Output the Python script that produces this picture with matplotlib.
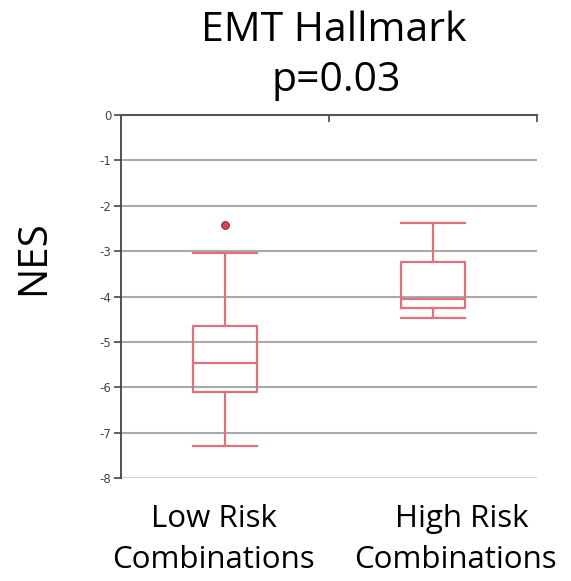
import matplotlib
matplotlib.use("Agg")
import matplotlib.pyplot as plt
from matplotlib.ticker import FixedLocator

categories = ["Low Risk\nCombinations", "High Risk\nCombinations"]
whislo = [-7.29, -4.47]
q1 = [-6.10, -4.25]
med = [-5.46, -4.05]
q3 = [-4.65, -3.24]
whishi = [-3.05, -2.38]
fliers = [[-2.42], []]
yticks = [0, -1, -2, -3, -4, -5, -6, -7, -8]

W, H = 571, 581
fig = plt.figure(figsize=(W / 100, H / 100), dpi=100)
ax = fig.add_axes([121 / W, 1 - 478 / H, (537 - 121) / W, (478 - 115) / H])

stats = []
for i in range(len(categories)):
    stats.append(dict(whislo=whislo[i], q1=q1[i], med=med[i], q3=q3[i],
                      whishi=whishi[i], fliers=fliers[i], label=categories[i]))

red = "#e2707c"
lw = 1.6
ax.bxp(stats, positions=[1, 2], widths=0.31, showfliers=True,
       boxprops=dict(color=red, lw=lw),
       medianprops=dict(color=red, lw=lw),
       whiskerprops=dict(color=red, lw=lw),
       capprops=dict(color=red, lw=lw),
       capwidths=0.31,
       flierprops=dict(marker="o", markersize=5.5, markerfacecolor="#d9444f",
                       markeredgecolor="#8c2f33", markeredgewidth=0.8),
       zorder=3)

ax.set_xlim(0.5, 2.5)
ax.set_ylim(-8, 0)

# gridlines
for y in yticks:
    if y == 0:
        continue
    c = "#c4c4c4" if y == -8 else "#a9a9a9"
    ax.axhline(y, color=c, lw=1.8 if y == -8 else 1.5, zorder=1)

for s in ["right", "bottom"]:
    ax.spines[s].set_visible(False)
ax.spines["left"].set_color("#444444")
ax.spines["left"].set_linewidth(1.3)
ax.spines["top"].set_color("#555555")
ax.spines["top"].set_linewidth(1.5)

ax.yaxis.set_major_locator(FixedLocator(yticks))
ax.set_yticklabels([str(v) for v in yticks])
ax.tick_params(axis="y", direction="out", length=5, width=1.2, color="#444444",
               labelsize=8.5, labelcolor="#444444", pad=2)
ax.tick_params(axis="x", bottom=False, labelbottom=False, top=True,
               direction="in", length=5, width=1.3, color="#555555")
ax.xaxis.set_major_locator(FixedLocator([1.5, 2.5]))
ax.set_xticklabels([])

font = ["Open Sans", "DejaVu Sans"]
fig.text(334 / W, 1 - 31 / H, "EMT Hallmark", ha="center", va="center",
         fontsize=29.5, family=font)
fig.text(336 / W, 1 - 81 / H, "p=0.03", ha="center", va="center",
         fontsize=29.5, family=font)
fig.text(34 / W, 1 - 258 / H, "NES", ha="center", va="center", rotation=90,
         fontsize=29, family=font)

label_lines = [c.split("\n") for c in categories]
lx = [[214, 213], [462, 455]]
ly = [519, 560]
for i, lines in enumerate(label_lines):
    for j, t in enumerate(lines):
        fig.text(lx[i][j] / W, 1 - ly[j] / H, t, ha="center", va="center",
                 fontsize=22.5, family=font)

fig.savefig("out.png", dpi=100)
